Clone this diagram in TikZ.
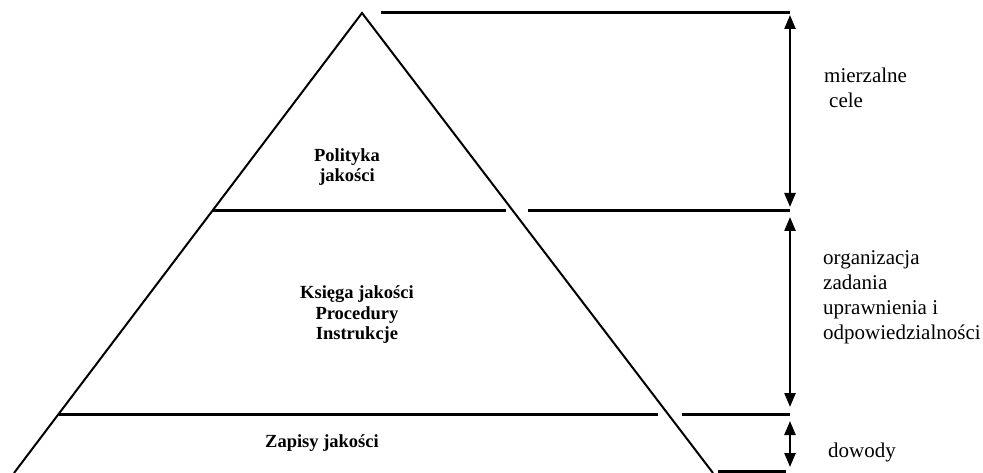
\documentclass[tikz,border=0pt]{standalone}
\usepackage{fontspec}
\setmainfont{Liberation Serif}
\usetikzlibrary{arrows.meta}

\begin{document}
\begin{tikzpicture}[x=1pt, y=-1pt,
        layer/.style={line width=3pt},
        span/.style={{Triangle[length=14pt,width=11pt]}-{Triangle[length=14pt,width=11pt]}, line width=2.4pt, shorten <=4pt, shorten >=4pt},
        lbl/.style={font=\fontsize{18.5}{20.5}\selectfont\bfseries, align=center, inner sep=0pt},
        note/.style={font=\fontsize{21}{25}\selectfont, align=left, anchor=west, inner sep=0pt}]
        \useasboundingbox (0, 0) rectangle (983, 473);
        % pyramid
        \coordinate (apex) at (362, 13);
        \coordinate (bl) at (14, 473);
        \coordinate (br) at (713, 473);
        \draw[line width=2pt] (bl) -- (apex) -- (br);
        % layer borders
        \draw[layer] (381, 13) -- (790, 13) coordinate (m0);
        \draw[layer] (212, 211) -- (506, 211);
        \draw[layer] (528, 211) -- (790, 211) coordinate (m1);
        \draw[layer] (59, 414) -- (658, 414);
        \draw[layer] (682, 414) -- (790, 414) coordinate (m2);
        \draw[layer] (718, 471) -- (786, 471);
        \coordinate (m3) at (790, 471);
        % spans
        \draw[span, shorten <=2pt] (m0) -- (m1);
        \draw[span, shorten <=6pt, shorten >=7pt] (m1) -- (m2);
        \draw[span, shorten <=7pt, shorten >=4pt] (m2) -- (m3);
        % labels inside
        \node[lbl] (polityka) at (347, 167) {Polityka\\jakości};
        \node[lbl] (ksiega) at (357, 315) {Księga jakości\\Procedury\\Instrukcje};
        \node[lbl] (zapisy) at (322, 443) {Zapisy jakości};
        % notes on the right
        \node[note] (cele) at (824, 88) {mierzalne\\\hspace*{5pt}cele};
        \node[note] (organizacja) at (823, 297) {organizacja\\zadania\\uprawnienia i\\odpowiedzialności};
        \node[note] (dowody) at (828, 452) {dowody};
\end{tikzpicture}
\end{document}
